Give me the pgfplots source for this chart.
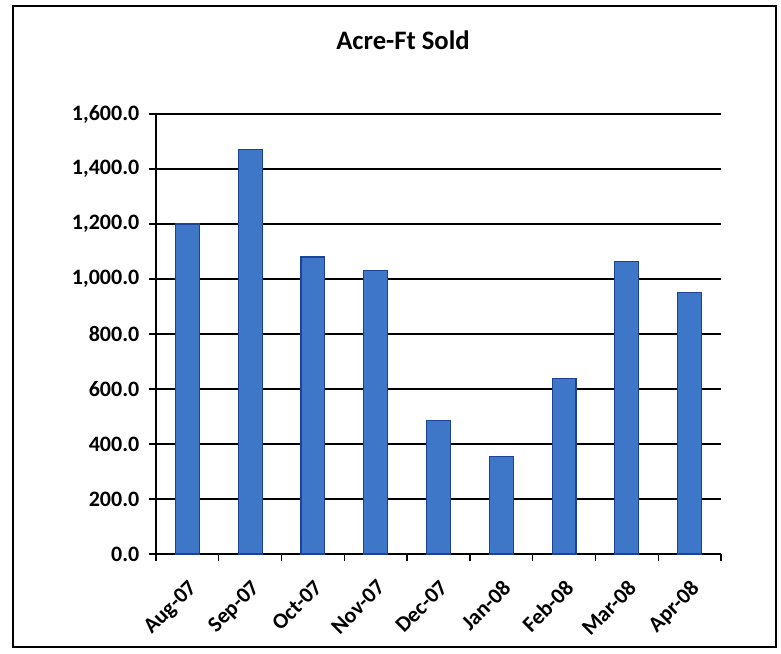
\documentclass[border=0pt]{standalone}
\usepackage{fontspec}
\setmainfont{Carlito}
\usepackage{pgfplots}
\pgfplotsset{compat=1.18}
\definecolor{barblue}{RGB}{62,118,200}
\definecolor{baredge}{RGB}{28,66,156}
\begin{document}
\begin{tikzpicture}[x=0.75pt,y=0.75pt]
\path (0,0) rectangle (781,653);
\draw[line width=1.4pt] (13,6) rectangle (776,647);
\node[font=\fontsize{20}{24}\selectfont\bfseries] at (403,613) {Acre-Ft Sold};
\begin{axis}[
    at={(117pt,74.25pt)}, anchor=south west,
    scale only axis, width=423.75pt, height=330pt,
    ymin=0, ymax=1600, ytick={0,200,...,1600},
    xmin=-0.5, xmax=8.5,
    xtick={0,...,8},
    xticklabels={Aug-07,Sep-07,Oct-07,Nov-07,Dec-07,Jan-08,Feb-08,Mar-08,Apr-08},
    major x tick style={draw=none},
    minor xtick={-0.5,0.5,...,8.5},
    minor tick length=5pt, major tick length=5pt,
    tick align=outside,
    axis x line*=bottom, axis y line*=left,
    axis line style={line width=1.5pt},
    tick style={black, line width=1pt},
    ymajorgrids, grid style={black, line width=0.9pt},
    scaled y ticks=false,
    yticklabel style={xshift=-4pt, /pgf/number format/fixed, /pgf/number format/fixed zerofill,
        /pgf/number format/precision=1, /pgf/number format/1000 sep={,},
        /pgf/number format/assume math mode=true},
    ticklabel style={font=\fontsize{16.5}{18}\selectfont\bfseries},
    xticklabel style={yshift=-12pt, rotate=45, anchor=north east, inner sep=1pt},
]
\addplot[ybar, bar width=0.38, fill=barblue, draw=baredge, line width=0.8pt] coordinates {
    (0,1200) (1,1470) (2,1080) (3,1032) (4,487) (5,355) (6,638) (7,1062) (8,950)
};
\end{axis}
\end{tikzpicture}
\end{document}
